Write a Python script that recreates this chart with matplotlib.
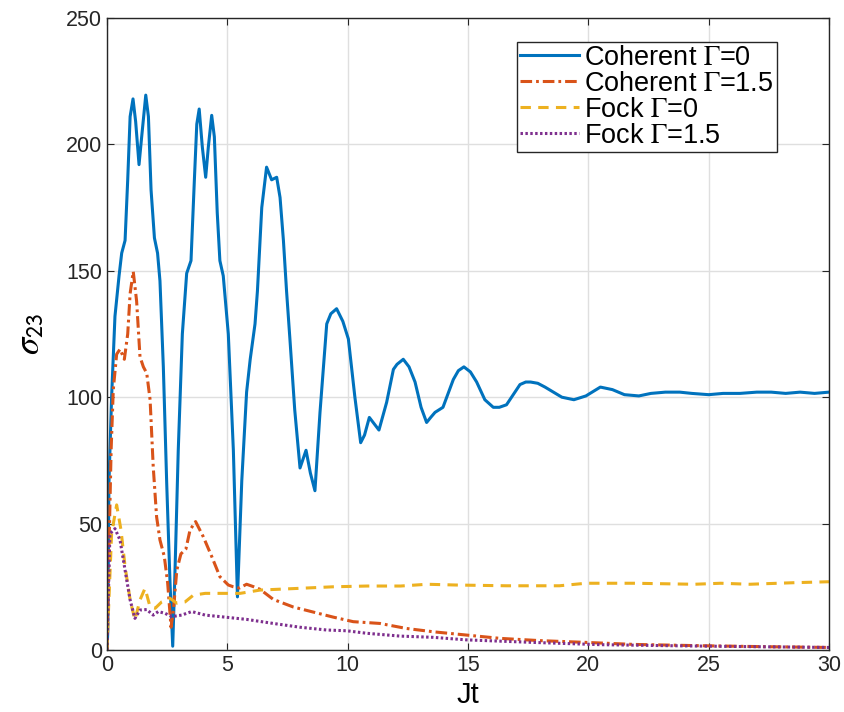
import matplotlib
matplotlib.use("Agg")
import matplotlib.pyplot as plt

plt.rcParams['font.family'] = ['Liberation Sans', 'DejaVu Sans']
plt.rcParams['mathtext.fontset'] = 'stix'

# Coherent, Gamma = 0
t_coh0 = [0, 0.03, 0.08, 0.19, 0.33, 0.5, 0.61, 0.75, 0.86, 0.96, 1.08, 1.19, 1.33, 1.44,
          1.61, 1.72, 1.83, 1.97, 2.1, 2.2, 2.34, 2.48, 2.62, 2.73, 2.83, 2.96, 3.13, 3.31,
          3.49, 3.63, 3.73, 3.83, 3.96, 4.1, 4.21, 4.35, 4.46, 4.58, 4.69, 4.83, 5.04, 5.25,
          5.42, 5.6, 5.8, 5.95, 6.15, 6.25, 6.43, 6.63, 6.84, 7.05, 7.19, 7.33, 7.46, 7.6,
          7.8, 8.02, 8.27, 8.45, 8.64, 8.85, 9.13, 9.3, 9.54, 9.8, 10.03, 10.3, 10.54, 10.7,
          10.9, 11.3, 11.62, 11.9, 12.05, 12.31, 12.55, 12.8, 13.05, 13.28, 13.45, 13.63,
          13.96, 14.39, 14.6, 14.83, 15.1, 15.36, 15.7, 16.05, 16.3, 16.6, 17.16, 17.4, 17.6,
          17.9, 18.2, 18.9, 19.4, 19.9, 20.5, 21.0, 21.5, 22.1, 22.6, 23.2, 23.8,
          24.3, 25.0, 25.6, 26.3, 27.0, 27.6, 28.2, 28.8, 29.4, 30]
v_coh0 = [0, 7, 66, 100, 132, 148, 157, 162, 186, 211, 218, 209, 192, 203,
          219.5, 211, 182, 163, 157, 146, 112, 66, 26, 1.5, 33, 79, 125, 149,
          154, 186, 208, 214, 199, 187, 199, 211.5, 203, 173, 154, 148, 125, 79,
          21, 67, 102, 115, 129, 142, 175, 191, 186, 187, 179, 162, 142, 123,
          95, 72, 79, 70, 63, 94, 129, 133, 135, 130, 123, 100, 82, 85,
          92, 87, 98, 111, 113, 115, 112, 106, 96, 90, 92, 94,
          96, 107, 110.5, 112, 110, 106, 99, 96, 96, 97, 105, 106, 106,
          105.5, 104, 100, 99, 100.5, 104, 103, 101, 100.5, 101.5, 102, 102,
          101.5, 101, 101.5, 101.5, 102, 102, 101.5, 102, 101.5, 102]

# Coherent, Gamma = 1.5
t_coh15 = [0, 0.08, 0.17, 0.26, 0.4, 0.54, 0.72, 0.86, 0.96, 1.09, 1.23, 1.37, 1.51, 1.65,
           1.79, 1.92, 2.06, 2.2, 2.38, 2.52, 2.66, 2.76, 2.9, 3.07, 3.28, 3.45, 3.68, 4.0,
           4.35, 4.69, 5.04, 5.25, 5.5, 5.8, 6.1, 6.36, 6.91, 7.74, 8.57, 9.4, 10.23, 11.34,
           12.45, 13.56, 14.94, 16.33, 18.0, 19.9, 21.9, 24.6, 27.4, 30]
v_coh15 = [0, 39, 79, 103, 117, 119, 115, 125, 141, 149.7, 138, 116, 112, 109.5,
           99, 72.5, 52.7, 43.5, 37, 26.5, 9, 15.8, 31.6, 38, 40, 47.5, 50.8, 44.8,
           37, 29, 25.7, 25, 24.5, 26, 25, 24, 20, 17, 15, 13, 11.2, 10.5,
           8.5, 7.2, 5.9, 4.6, 3.7, 3.0, 2.2, 1.7, 1.3, 1.0]

# Fock, Gamma = 0
t_fock0 = [0, 0.05, 0.19, 0.4, 0.58, 0.75, 0.96, 1.16, 1.37, 1.58, 1.79, 2.0, 2.27, 2.62,
           2.9, 3.24, 3.59, 4.08, 4.56, 5.53, 6.36, 8.02, 9.4, 10.8, 12.2, 13.3, 14.5, 16.6,
           18.8, 19.9, 21.9, 24.4, 25.5, 26.7, 28.5, 30]
v_fock0 = [0, 13, 46, 57.4, 47.5, 33, 19.8, 11.9, 19.8, 24.4, 17, 16.5, 19, 20.4,
           18.5, 19, 21.7, 22.4, 22.4, 22.4, 23.7, 24.4, 25, 25.3, 25.3, 26, 25.7, 25.4,
           25.4, 26.4, 26.4, 26, 26.4, 26, 26.6, 27]

# Fock, Gamma = 1.5
t_fock15 = [0, 0.12, 0.33, 0.54, 0.75, 0.96, 1.16, 1.37, 1.65, 1.92, 2.13, 2.41, 2.69, 3.1,
            3.52, 4.08, 4.9, 5.8, 6.91, 8.02, 9.13, 9.96, 10.8, 12.17, 13.56, 14.94, 17.7,
            20.5, 23.3, 26, 30]
v_fock15 = [0, 46, 48, 43.5, 31.6, 19.8, 12.5, 15.8, 16, 13.8, 15.2, 14.5, 13.2, 13.8,
            15.2, 13.8, 13, 12.1, 10.5, 9, 7.9, 7.6, 6.6, 5.5, 5, 4, 3.0,
            2.1, 1.7, 1.4, 1.0]

labels = [r'Coherent $\Gamma$=0', r'Coherent $\Gamma$=1.5', r'Fock $\Gamma$=0', r'Fock $\Gamma$=1.5']
colors = ['#0072BD', '#D95319', '#EDB120', '#7E2F8E']

fig = plt.figure(figsize=(8.44, 7.12), dpi=100)
ax = fig.add_axes([0.1268, 0.0871, 0.8554, 0.8876])

kw = dict(lw=2.2, solid_joinstyle='round', dash_joinstyle='round')
ax.plot(t_coh0, v_coh0, color=colors[0], label=labels[0], **kw)
ax.plot(t_coh15, v_coh15, color=colors[1], linestyle=(0, (3.8, 1.3, 0.9, 1.3)), label=labels[1], **kw)
ax.plot(t_fock0, v_fock0, color=colors[2], linestyle=(0, (3.4, 2.4)), label=labels[2], **kw)
ax.plot(t_fock15, v_fock15, color=colors[3], linestyle=(0, (0.8, 0.8)), label=labels[3], **kw)

ax.set_xlim(0, 30)
ax.set_ylim(0, 250)
ax.set_xticks(range(0, 31, 5))
ax.set_yticks(range(0, 251, 50))
ax.grid(True, color='#dfdfdf', linewidth=1)
ax.set_axisbelow(True)
ax.tick_params(direction='in', length=5, top=True, right=True, labelsize=15.5, colors='#262626')
for s in ax.spines.values():
    s.set_color('#262626')
    s.set_linewidth(1.0)

ax.set_xlabel('Jt', fontsize=21, labelpad=4)
ax.set_ylabel(r'$\sigma_{\mathsf{23}}$', fontsize=25, labelpad=14)

leg = ax.legend(loc='upper right', bbox_to_anchor=(0.9276, 0.9625), borderaxespad=0,
                fontsize=19.5, handlelength=2.15, handletextpad=0.2, labelspacing=0.0,
                borderpad=0.12, fancybox=False, framealpha=1, edgecolor='#262626')
leg.get_frame().set_linewidth(1.0)

fig.savefig('out.png', dpi=100)
